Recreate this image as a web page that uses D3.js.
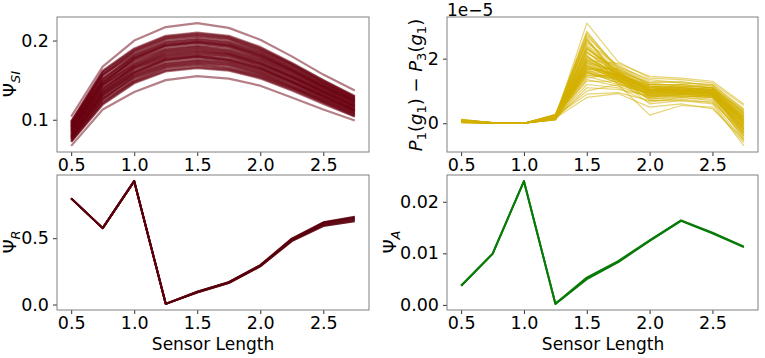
<!DOCTYPE html>
<html><head><meta charset="utf-8">
<script src="https://cdn.jsdelivr.net/npm/d3@7"></script>
<style>body{margin:0;background:#fff}svg{font-family:"DejaVu Sans",sans-serif}</style>
</head><body><svg id="c" width="765" height="358"></svg>
<script>
const sensorLength = [0.5,0.75,1.0,1.25,1.5,1.75,2.0,2.25,2.5,2.75];
const xTicks = [0.5,1.0,1.5,2.0,2.5];

// Psi_SI lines
const psiSI = [
 [0.104,0.167,0.200,0.217,0.222,0.216,0.201,0.180,0.157,0.137],
 [0.067,0.113,0.135,0.150,0.155,0.152,0.143,0.128,0.113,0.099],
 [0.072,0.119,0.146,0.161,0.165,0.162,0.152,0.137,0.120,0.104],
 [0.073,0.122,0.148,0.163,0.167,0.164,0.154,0.139,0.122,0.105],
 [0.075,0.121,0.150,0.166,0.170,0.166,0.156,0.141,0.123,0.107],
 [0.076,0.127,0.153,0.168,0.172,0.169,0.158,0.142,0.125,0.108],
 [0.077,0.126,0.155,0.170,0.174,0.171,0.160,0.144,0.126,0.109],
 [0.079,0.131,0.157,0.172,0.176,0.173,0.162,0.146,0.128,0.111],
 [0.080,0.130,0.159,0.175,0.179,0.175,0.164,0.148,0.129,0.112],
 [0.081,0.135,0.161,0.177,0.181,0.177,0.166,0.149,0.131,0.113],
 [0.082,0.134,0.164,0.179,0.183,0.180,0.168,0.151,0.132,0.114],
 [0.084,0.139,0.166,0.181,0.185,0.182,0.170,0.153,0.134,0.116],
 [0.085,0.140,0.168,0.184,0.188,0.184,0.172,0.155,0.135,0.117],
 [0.086,0.144,0.170,0.186,0.190,0.186,0.174,0.156,0.137,0.118],
 [0.088,0.143,0.172,0.188,0.192,0.188,0.176,0.158,0.138,0.120],
 [0.089,0.148,0.175,0.190,0.194,0.191,0.178,0.160,0.140,0.121],
 [0.090,0.147,0.177,0.193,0.197,0.193,0.180,0.162,0.141,0.122],
 [0.092,0.152,0.179,0.195,0.199,0.195,0.182,0.163,0.143,0.124],
 [0.093,0.151,0.181,0.197,0.201,0.197,0.184,0.165,0.144,0.125],
 [0.094,0.157,0.183,0.199,0.203,0.199,0.186,0.167,0.146,0.126],
 [0.095,0.156,0.186,0.202,0.206,0.202,0.188,0.169,0.147,0.127],
 [0.097,0.160,0.188,0.204,0.208,0.204,0.190,0.170,0.149,0.129],
 [0.098,0.162,0.190,0.206,0.210,0.206,0.192,0.172,0.150,0.130],
 [0.072,0.120,0.147,0.162,0.166,0.163,0.153,0.138,0.121,0.104],
 [0.074,0.124,0.149,0.165,0.169,0.165,0.155,0.140,0.123,0.106],
 [0.075,0.125,0.152,0.167,0.171,0.168,0.157,0.141,0.124,0.107],
 [0.077,0.127,0.154,0.169,0.173,0.170,0.159,0.143,0.126,0.109],
 [0.078,0.129,0.156,0.171,0.175,0.172,0.161,0.145,0.127,0.110],
 [0.079,0.131,0.158,0.174,0.178,0.174,0.163,0.147,0.129,0.111],
 [0.080,0.133,0.160,0.176,0.180,0.176,0.165,0.148,0.130,0.112],
 [0.082,0.135,0.163,0.178,0.182,0.179,0.167,0.150,0.132,0.114],
 [0.083,0.137,0.165,0.180,0.184,0.181,0.169,0.152,0.133,0.115],
 [0.084,0.139,0.167,0.182,0.186,0.183,0.171,0.154,0.135,0.116],
 [0.086,0.142,0.169,0.185,0.189,0.185,0.173,0.155,0.136,0.118],
 [0.087,0.144,0.171,0.187,0.191,0.187,0.175,0.157,0.138,0.119],
 [0.088,0.146,0.174,0.189,0.193,0.189,0.177,0.159,0.139,0.120],
 [0.090,0.148,0.176,0.192,0.196,0.192,0.179,0.161,0.141,0.122],
 [0.091,0.150,0.178,0.194,0.198,0.194,0.181,0.163,0.142,0.123],
 [0.092,0.152,0.180,0.196,0.200,0.196,0.183,0.164,0.144,0.124],
 [0.094,0.155,0.182,0.198,0.202,0.198,0.185,0.166,0.145,0.126],
 [0.095,0.157,0.185,0.201,0.205,0.201,0.187,0.168,0.147,0.127],
 [0.096,0.159,0.187,0.203,0.207,0.203,0.189,0.170,0.148,0.128],
 [0.097,0.161,0.189,0.205,0.209,0.205,0.191,0.171,0.150,0.129],
 [0.078,0.133,0.160,0.176,0.180,0.176,0.165,0.148,0.130,0.112],
 [0.087,0.137,0.167,0.183,0.187,0.183,0.171,0.154,0.135,0.117],
 [0.091,0.145,0.178,0.194,0.198,0.194,0.181,0.162,0.142,0.123]
];
const ySITicks = [0.1,0.2];

// P1(g1) - P3(g1), units of 1e-5
const pDiff = [
 [0.05,0.01,0.0,0.15,3.10,1.90,1.40,1.35,1.25,0.55],
 [0.08,0.01,0.0,0.20,2.80,1.70,1.20,1.10,1.05,0.20],
 [0.10,0.02,0.0,0.25,2.75,1.60,1.00,1.20,1.10,0.10],
 [0.03,0.00,0.0,0.12,2.60,1.55,1.10,1.00,0.95,-0.10],
 [0.12,0.01,0.0,0.28,2.50,1.80,1.30,1.25,1.20,0.40],
 [0.06,0.01,0.0,0.18,2.40,1.45,0.90,0.95,0.90,-0.30],
 [0.04,0.00,0.0,0.10,2.30,1.65,1.15,1.05,1.00,0.00],
 [0.09,0.02,0.0,0.22,2.20,1.50,0.80,0.85,0.80,-0.50],
 [0.07,0.01,0.0,0.17,2.15,1.75,1.25,1.30,1.15,0.30],
 [0.02,0.00,0.0,0.11,2.05,1.40,1.05,0.90,0.85,-0.20],
 [0.11,0.01,0.0,0.26,2.00,1.55,0.95,1.10,1.05,0.05],
 [0.05,0.01,0.0,0.19,1.95,1.85,1.45,1.40,1.30,0.60],
 [0.08,0.01,0.0,0.14,1.90,1.35,0.75,0.80,0.70,-0.40],
 [0.03,0.00,0.0,0.21,1.85,1.60,1.00,1.00,0.95,0.15],
 [0.10,0.02,0.0,0.16,1.80,1.30,0.85,0.95,0.90,-0.05],
 [0.06,0.01,0.0,0.24,1.75,1.50,1.10,1.15,1.10,0.25],
 [0.04,0.00,0.0,0.13,1.70,1.45,0.70,0.75,0.65,-0.55],
 [0.09,0.01,0.0,0.27,1.65,1.70,1.20,1.20,1.15,0.35],
 [0.07,0.01,0.0,0.18,1.60,1.25,0.90,0.85,0.80,-0.15],
 [0.02,0.00,0.0,0.12,1.55,1.40,1.05,1.05,1.00,0.10],
 [0.12,0.02,0.0,0.23,1.50,1.35,0.60,0.70,0.60,-0.70],
 [0.05,0.01,0.0,0.15,1.45,1.20,0.95,1.00,0.95,-0.25],
 [0.08,0.01,0.0,0.20,1.40,1.55,1.15,1.10,1.05,0.20],
 [0.03,0.00,0.0,0.10,1.35,1.15,0.80,0.90,0.85,-0.35],
 [0.06,0.01,0.0,0.25,1.30,1.30,1.00,0.95,0.90,0.00],
 [0.10,0.01,0.0,0.17,1.20,1.10,0.65,0.80,0.75,-0.45],
 [0.04,0.00,0.0,0.14,1.10,1.05,0.85,0.85,0.80,-0.10],
 [0.07,0.01,0.0,0.19,1.00,1.20,0.25,0.55,0.50,-0.60],
 [0.09,0.01,0.0,0.22,0.90,0.95,0.70,0.70,0.65,-0.30],
 [0.05,0.00,0.0,0.16,0.80,0.92,0.50,0.60,0.45,-0.50],
 [0.08,0.01,0.0,0.21,2.65,1.35,1.15,1.10,1.00,0.05],
 [0.06,0.01,0.0,0.18,2.35,1.60,1.25,1.15,1.10,0.30],
 [0.04,0.00,0.0,0.12,2.10,1.20,0.90,1.05,1.00,-0.20],
 [0.10,0.02,0.0,0.26,1.88,1.65,1.05,0.95,0.95,0.15],
 [0.07,0.01,0.0,0.15,1.62,1.50,0.80,0.90,0.85,-0.15],
 [0.03,0.00,0.0,0.20,1.48,1.45,1.20,1.20,1.10,0.40],
 [0.09,0.01,0.0,0.24,2.70,1.75,1.35,1.25,1.20,0.45],
 [0.05,0.01,0.0,0.17,2.25,1.30,0.95,0.90,0.85,-0.05],
 [0.06,0.01,0.0,0.13,1.78,1.40,1.10,1.05,1.00,0.10],
 [0.08,0.01,0.0,0.22,1.58,1.25,0.75,0.85,0.80,-0.25],
 [0.06,0.01,0.0,0.20,2.55,1.45,1.05,1.00,0.95,0.05],
 [0.09,0.01,0.0,0.24,2.45,1.50,1.10,1.05,1.00,0.20],
 [0.04,0.00,0.0,0.15,2.35,1.40,0.95,0.95,0.90,-0.15],
 [0.07,0.01,0.0,0.18,2.20,1.55,1.00,1.05,1.00,0.00],
 [0.10,0.02,0.0,0.26,2.10,1.45,1.10,1.10,1.05,0.25],
 [0.05,0.01,0.0,0.14,2.05,1.50,0.90,0.95,0.90,-0.30],
 [0.08,0.01,0.0,0.21,1.98,1.35,1.00,1.00,0.95,0.10],
 [0.03,0.00,0.0,0.12,1.92,1.55,1.15,1.10,1.05,0.30],
 [0.06,0.01,0.0,0.19,1.85,1.40,0.85,0.90,0.85,-0.20],
 [0.09,0.01,0.0,0.23,1.80,1.45,1.05,1.00,0.95,0.05],
 [0.05,0.01,0.0,0.16,1.75,1.35,0.95,1.05,1.00,-0.10],
 [0.07,0.01,0.0,0.20,1.70,1.55,1.10,1.00,0.95,0.20],
 [0.04,0.00,0.0,0.13,1.66,1.30,0.90,0.95,0.90,-0.35],
 [0.08,0.01,0.0,0.22,1.60,1.40,1.00,1.05,0.95,0.00],
 [0.06,0.01,0.0,0.18,1.55,1.35,0.85,0.90,0.85,-0.40],
 [0.10,0.02,0.0,0.25,2.85,1.65,1.20,1.15,1.10,0.35],
 [0.05,0.01,0.0,0.15,2.60,1.50,1.05,1.10,1.05,0.15],
 [0.07,0.01,0.0,0.20,2.30,1.60,0.95,1.00,0.95,-0.05],
 [0.08,0.01,0.0,0.17,1.95,1.45,1.00,0.95,0.90,-0.20],
 [0.06,0.01,0.0,0.21,1.72,1.50,1.05,1.00,0.95,0.10]
];
const pTicks = [0,2];

// Psi_R lines
const psiR = [
 [0.800,0.576,0.930,0.005,0.090,0.162,0.287,0.478,0.592,0.628],
 [0.800,0.576,0.930,0.005,0.092,0.164,0.290,0.483,0.600,0.638],
 [0.800,0.576,0.930,0.005,0.094,0.166,0.292,0.488,0.608,0.646],
 [0.800,0.576,0.930,0.005,0.096,0.168,0.295,0.493,0.616,0.655],
 [0.800,0.576,0.930,0.005,0.097,0.169,0.297,0.497,0.620,0.662]
];
const yRTicks = [0.0,0.5];

// Psi_A lines
const psiA = [
 [0.0037,0.0099,0.0240,0.0002,0.0050,0.0083,0.0124,0.0163,0.0139,0.0112],
 [0.0037,0.0099,0.0240,0.0002,0.0053,0.0085,0.0125,0.0164,0.0140,0.0113]
];
const yATicks = [0.00,0.01,0.02];

const svg = d3.select("#c");

function padded(arrs){
  const lo = d3.min(arrs, a=>d3.min(a)), hi = d3.max(arrs, a=>d3.max(a));
  const m = (hi-lo)*0.05; return [lo-m, hi+m];
}
const xDom = padded([sensorLength]);

function panel(o){
  const x = d3.scaleLinear().domain(xDom).range([o.l,o.r]);
  const y = d3.scaleLinear().domain(padded(o.data)).range([o.b,o.t]);
  const g = svg.append("g");
  const line = d3.line().x((d,i)=>x(sensorLength[i])).y(d=>y(d));
  g.selectAll("path.ln").data(o.data).join("path").attr("class","ln")
    .attr("d",line).attr("fill","none").attr("stroke",o.color)
    .attr("stroke-opacity",o.alpha).attr("stroke-width",o.sw)
    .attr("stroke-linejoin","round");
  const xa = g.append("g").attr("transform",`translate(0,${o.b})`)
    .call(d3.axisBottom(x).tickValues(xTicks).tickFormat(d3.format(".1f")).tickSize(4).tickPadding(3));
  const ya = g.append("g").attr("transform",`translate(${o.l},0)`)
    .call(d3.axisLeft(y).tickValues(o.yTicks).tickFormat(o.fmt).tickSize(4).tickPadding(4));
  [xa,ya].forEach(a=>{
    a.attr("font-size",null).attr("font-family",null);
    a.select(".domain").remove();
    a.selectAll("text").style("font-size","17.5px").style("font-family","DejaVu Sans").attr("fill","#000");
    a.selectAll("line").attr("stroke","#333");
  });
  g.append("rect").attr("x",o.l).attr("y",o.t).attr("width",o.r-o.l).attr("height",o.b-o.t)
    .attr("fill","none").attr("stroke","#808080").attr("stroke-width",1);
  return g;
}

panel({l:57,r:369,t:17,b:152,data:psiSI,yTicks:ySITicks,fmt:d3.format(".1f"),color:"#6a0010",alpha:0.5,sw:2.2});
panel({l:447,r:758,t:17,b:152,data:pDiff,yTicks:pTicks,fmt:d3.format("d"),color:"#d4b000",alpha:0.55,sw:1.2});
panel({l:57,r:369,t:175,b:310,data:psiR,yTicks:yRTicks,fmt:d3.format(".1f"),color:"#5a000c",alpha:0.9,sw:2});
panel({l:447,r:758,t:175,b:310,data:psiA,yTicks:yATicks,fmt:d3.format(".2f"),color:"#087a08",alpha:1,sw:2});

// labels
function ylab(xc,yc,html){
  svg.append("text").attr("transform",`translate(${xc},${yc}) rotate(-90)`)
    .attr("text-anchor","middle").attr("font-size",18).html(html);
}
ylab(16,84,'Ψ<tspan font-size="13" font-style="italic" dy="3.5">SI</tspan>');
ylab(422,85,'<tspan font-style="italic">P</tspan><tspan font-size="13" dy="4">1</tspan><tspan dy="-4">(</tspan><tspan font-style="italic">g</tspan><tspan font-size="13" dy="4">1</tspan><tspan dy="-4">) − </tspan><tspan font-style="italic">P</tspan><tspan font-size="13" dy="4">3</tspan><tspan dy="-4">(</tspan><tspan font-style="italic">g</tspan><tspan font-size="13" dy="4">1</tspan><tspan dy="-4">)</tspan>');
ylab(16,242,'Ψ<tspan font-size="13" font-style="italic" dy="3.5">R</tspan>');
ylab(396,242,'Ψ<tspan font-size="13" font-style="italic" dy="3.5">A</tspan>');
svg.append("text").attr("x",447).attr("y",16).attr("font-size",17).text("1e−5");
svg.append("text").attr("x",213).attr("y",350).attr("text-anchor","middle").attr("font-size",17).text("Sensor Length");
svg.append("text").attr("x",603).attr("y",350).attr("text-anchor","middle").attr("font-size",17).text("Sensor Length");
</script></body></html>
